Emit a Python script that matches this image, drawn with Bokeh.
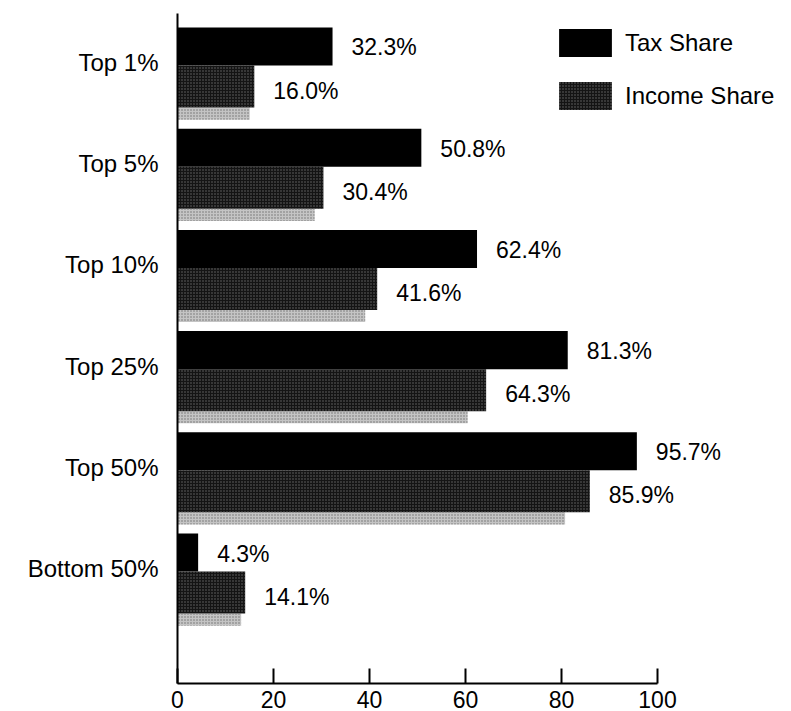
from bokeh.plotting import figure
from bokeh.models import Range1d, FixedTicker, Legend, LegendItem, ColumnDataSource
from bokeh.core.properties import value
from bokeh.embed import file_html
from bokeh.resources import INLINE

groups = ["Top 1%", "Top 5%", "Top 10%", "Top 25%", "Top 50%", "Bottom 50%"]
tax_share = [32.3, 50.8, 62.4, 81.3, 95.7, 4.3]
income_share = [16.0, 30.4, 41.6, 64.3, 85.9, 14.1]
x_ticks = [0, 20, 40, 60, 80, 100]

FONT = "Liberation Sans"
idx = list(range(len(groups)))

# layout constants (style)
PX_PER_UNIT = 4.8
FRAME_W, FRAME_H = 614, 670
TAX_C, TAX_H = -0.158, 0.376
INC_C, INC_H = 0.2375, 0.415
FR_C, FR_H = 0.505, 0.12

tax_src = ColumnDataSource(dict(
    y=[i + TAX_C for i in idx], right=tax_share,
    label=[f"{v:.1f}%" for v in tax_share]))
inc_src = ColumnDataSource(dict(
    y=[i + INC_C for i in idx], right=income_share,
    label=[f"{v:.1f}%" for v in income_share]))
fr_src = ColumnDataSource(dict(
    y=[i + FR_C for i in idx], right=[v * 0.94 for v in income_share]))

p = figure(frame_width=FRAME_W, frame_height=FRAME_H,
           min_border_left=177, min_border_right=0,
           min_border_top=13, min_border_bottom=28,
           x_range=Range1d(0, FRAME_W / PX_PER_UNIT),
           y_range=Range1d(6.136, -0.484),
           output_backend="svg", toolbar_location=None)
p.outline_line_color = None
p.xgrid.visible = False
p.ygrid.visible = False
p.background_fill_color = "white"
p.border_fill_color = "white"

# light scan fringe under the income bars
p.hbar(y="y", left=0, right="right", height=FR_H, source=fr_src,
       fill_color="#c4c4c4", line_color=None,
       hatch_pattern="dot", hatch_color="#6e6e6e", hatch_scale=3, hatch_weight=1)

r_tax = p.hbar(y="y", left=0, right="right", height=TAX_H, source=tax_src,
               fill_color="black", line_color=None)
r_inc = p.hbar(y="y", left=0, right="right", height=INC_H, source=inc_src,
               fill_color="#141414", line_color=None,
               hatch_pattern="dot", hatch_color="#d8d8d8", hatch_scale=3,
               hatch_weight=1, hatch_alpha=0.45)

p.text(x="right", y="y", text="label", source=tax_src, x_offset=19, y_offset=1,
       text_baseline="middle", text_align="left", text_color="black",
       text_font=value(FONT), text_font_size="23px")
p.text(x="right", y="y", text="label", source=inc_src, x_offset=19, y_offset=4,
       text_baseline="middle", text_align="left", text_color="black",
       text_font=value(FONT), text_font_size="23px")

# x axis
xa = p.xaxis[0]
xa.ticker = FixedTicker(ticks=x_ticks)
xa.bounds = (0, 100)
xa.major_tick_in = 15
xa.major_tick_out = 0
xa.minor_tick_line_color = None
xa.axis_line_width = 2
xa.major_tick_line_width = 2
xa.axis_line_color = "black"
xa.major_tick_line_color = "black"
xa.major_label_text_font = FONT
xa.major_label_text_font_size = "23px"
xa.major_label_text_color = "black"
xa.major_label_standoff = 7

# y axis with category labels
ya = p.yaxis[0]
ya.ticker = FixedTicker(ticks=idx)
ya.major_label_overrides = {i: g for i, g in zip(idx, groups)}
ya.major_tick_in = 0
ya.major_tick_out = 0
ya.minor_tick_line_color = None
ya.axis_line_width = 2
ya.axis_line_color = "black"
ya.major_label_text_font = FONT
ya.major_label_text_font_size = "24px"
ya.major_label_text_color = "black"
ya.major_label_standoff = 19

legend = Legend(items=[LegendItem(label="Tax Share", renderers=[r_tax]),
                       LegendItem(label="Income Share", renderers=[r_inc])],
                location=(375, 570), orientation="vertical",
                glyph_width=66, glyph_height=35, label_height=35,
                spacing=18, padding=0, margin=0, label_standoff=7,
                border_line_color=None, background_fill_alpha=0,
                label_text_font=FONT, label_text_font_size="24px",
                label_text_color="black")
p.add_layout(legend)

open("out.html", "w").write(file_html(p, INLINE))
